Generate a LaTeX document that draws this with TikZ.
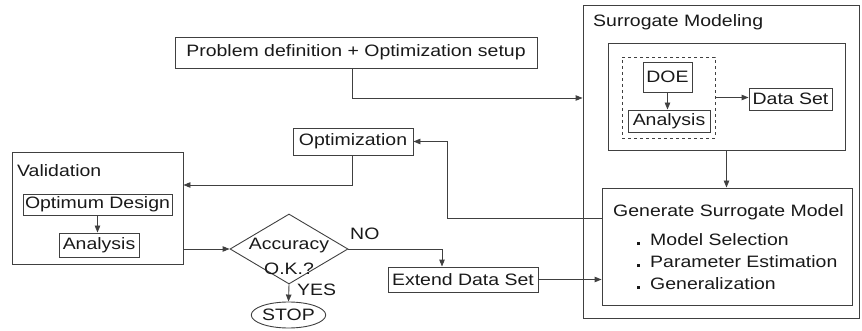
\documentclass[tikz,border=0pt]{standalone}
\usepackage{fontspec}
\setmainfont{Liberation Sans}[FakeStretch=1.18]
\usetikzlibrary{arrows.meta,shapes.geometric,calc}
\begin{document}
\begin{tikzpicture}[x=1pt,y=-1pt,
  every node/.style={font=\fontsize{16.5}{20}\selectfont, text=black!90},
  box/.style={draw=black!75, line width=0.9pt, inner sep=0pt, rectangle},
  dbox/.style={box, dashed, dash pattern=on 3pt off 3pt},
  lbl/.style={inner sep=0pt, anchor=base west},
  ln/.style={draw=black!75, line width=0.9pt},
  arr/.style={ln, -{Triangle[length=7pt,width=5.5pt]}}]
\useasboundingbox (0,0) rectangle (862,331);

% Problem definition
\node[box, minimum width=362pt, minimum height=31pt] (prob) at (356,52.5) {Problem definition + Optimization setup};

% Surrogate modeling outer box
\node[box, minimum width=276pt, minimum height=313pt] (sm) at (721,161.5) {};
\node[lbl] (smt) at (593,27) {Surrogate Modeling};
\node[box, minimum width=237pt, minimum height=107pt] (inner) at (726.5,96.5) {};
\node[dbox, minimum width=93pt, minimum height=81pt] (dsh) at (668.5,97.5) {};
\node[box, minimum width=49pt, minimum height=30pt] (doe) at (667.5,77) {DOE};
\node[box, minimum width=82pt, minimum height=22pt] (ana1) at (669,121) {Analysis};
\node[box, minimum width=83pt, minimum height=22pt] (ds) at (790.5,99) {Data Set};

% Generate surrogate model
\node[box, minimum width=250pt, minimum height=117pt] (gen) at (727,246.5) {};
\node[lbl] (gent) at (613,217) {Generate Surrogate Model};
\node[lbl] (g1t) at (637,245) {\rule{3pt}{3pt}\hspace{10pt}Model Selection};
\node[lbl] (g2t) at (637,267) {\rule{3pt}{3pt}\hspace{10pt}Parameter Estimation};
\node[lbl] (g3t) at (637,289) {\rule{3pt}{3pt}\hspace{10pt}Generalization};

% Optimization
\node[box, minimum width=120pt, minimum height=27pt] (opt) at (353,141.5) {Optimization};

% Validation
\node[box, minimum width=171pt, minimum height=112pt] (val) at (97.5,208) {};
\node[lbl] (valt) at (17,177) {Validation};
\node[box, minimum width=149pt, minimum height=21pt] (od) at (97.5,204.5) {Optimum Design};
\node[box, minimum width=80pt, minimum height=24pt] (ana2) at (99,245) {Analysis};

% Decision
\node[draw=black!75, line width=0.9pt, shape=diamond, inner sep=0pt, minimum width=118pt, minimum height=70pt] (dia) at (289,249) {};
\node[align=center, inner sep=0pt, font=\fontsize{16.5}{25}\selectfont] (diat) at (289,256) {Accuracy\\O.K.?};
\node[draw=black!75, line width=0.9pt, ellipse, inner sep=0pt, minimum width=67pt, minimum height=26pt] (stop) at (288.5,315) {STOP};
\node[lbl] (no) at (350,240) {NO};
\node[lbl] (yes) at (297,295) {YES};

% Extend data set
\node[box, minimum width=150pt, minimum height=25pt] (eds) at (463,279.5) {Extend Data Set};

% Connectors
\coordinate (c1) at (352,98);
\draw[arr] (prob.south -| c1) -- (c1) -- (c1 -| sm.west);
\draw[arr] (doe.south) -- (doe.south |- ana1.north);
\draw[arr] (dsh.east) -- (dsh.east -| ds.west);
\draw[arr] (inner.south) -- (inner.south |- gen.north);
\coordinate (g1) at (447,218);
\draw[arr] (gen.west |- g1) -- (g1) |- (opt.east);
\coordinate (o1) at (352,185);
\draw[arr] (opt.south -| o1) -- (o1) -- (o1 -| val.east);
\draw[arr] (od.south) -- (od.south |- ana2.north);
\draw[arr] (val.east |- dia.west) -- (dia.west);
\coordinate (e1) at (442,249);
\draw[arr] (dia.east) -- (e1) -- (e1 |- eds.north);
\draw[arr] (eds.east) -- (eds.east -| gen.west);
\draw[arr] (dia.south) -- (stop.north);
\end{tikzpicture}
\end{document}
